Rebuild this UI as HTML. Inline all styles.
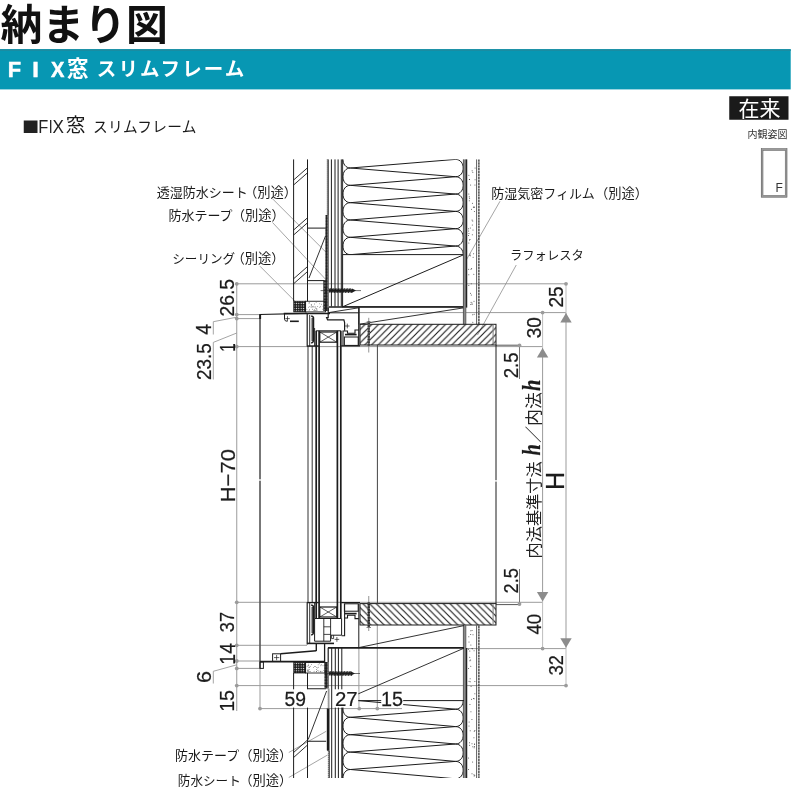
<!DOCTYPE html>
<html lang="ja"><head><meta charset="utf-8"><title>納まり図 FIX窓 スリムフレーム</title>
<style>html,body{margin:0;padding:0;background:#fff;}body{width:800px;height:800px;position:relative;overflow:hidden;font-family:"Liberation Sans",sans-serif;}.sr{position:absolute;left:0;top:0;width:1px;height:1px;margin:0;padding:0;overflow:hidden;clip:rect(0 0 0 0);clip-path:inset(50%);white-space:nowrap;font-size:1px;color:transparent;}</style>
</head><body>
<h1 class="sr">納まり図</h1>
<h2 class="sr">FIX窓 スリムフレーム</h2>
<p class="sr">在来 内観姿図 透湿防水シート（別途） 防水テープ（別途） シーリング（別途） 防湿気密フィルム（別途） ラフォレスタ 内法基準寸法h／内法h 防水シート（別途）</p>
<svg width="800" height="800" viewBox="0 0 800 800" style="position:absolute;left:0;top:0;will-change:transform;opacity:0.999">
<defs>
<pattern id="hA" patternUnits="userSpaceOnUse" width="6.7" height="6.7" x="3.4" y="324.4"><path d="M-1,7.7 L7.7,-1 M-1,1 L1,-1 M5.7,7.7 L7.7,5.7" stroke="#1c1c1c" stroke-width="1.15"/></pattern>
<pattern id="hB" patternUnits="userSpaceOnUse" width="6.7" height="6.7" x="1" y="603.6"><path d="M-1,-1 L7.7,7.7 M5.7,-1 L7.7,1 M-1,5.7 L1,7.7" stroke="#1c1c1c" stroke-width="1.15"/></pattern>
<pattern id="xh" patternUnits="userSpaceOnUse" width="2.4" height="2.4"><rect width="2.4" height="2.4" fill="#1c1c1c"/><circle cx="1.2" cy="1.2" r="0.62" fill="#fff"/></pattern>
<pattern id="bd" patternUnits="userSpaceOnUse" width="1.5" height="1.5"><rect width="1.5" height="1.5" fill="#1c1c1c"/><rect x="0" y="0" width="0.5" height="0.5" fill="#fff"/></pattern>
</defs>
<rect x="0" y="49.2" width="790.7" height="40.2" fill="#0797b3"/>
<rect x="0" y="49.2" width="790.7" height="1.8" fill="#1a8ca2"/>
<text x="0.5" y="39.8" font-family="'Liberation Sans','Noto Sans CJK JP',sans-serif" font-size="41.8" font-weight="bold" fill="#111" textLength="167.5" lengthAdjust="spacingAndGlyphs">納まり図</text>
<text transform="translate(7.64,76.8) scale(0.97,1)" font-family="Liberation Sans" font-size="22.53" font-weight="bold" fill="#fff" stroke="#fff" stroke-width="0.5">F</text>
<text transform="translate(32.32,76.8) scale(1.05,1)" font-family="Liberation Sans" font-size="22.53" font-weight="bold" fill="#fff" stroke="#fff" stroke-width="0.5">I</text>
<text transform="translate(51.02,76.8) scale(0.89,1)" font-family="Liberation Sans" font-size="22.53" font-weight="bold" fill="#fff" stroke="#fff" stroke-width="0.5">X</text>
<text x="67" y="76.3" font-family="'Liberation Sans','Noto Sans CJK JP',sans-serif" font-size="21.5" font-weight="bold" fill="#fff">窓</text>
<text x="96.8" y="76.3" font-family="'Liberation Sans','Noto Sans CJK JP',sans-serif" font-size="19.5" font-weight="bold" fill="#fff" textLength="147.5" lengthAdjust="spacing">スリムフレーム</text>
<rect x="23.75" y="120.5" width="13.75" height="12.5" fill="#222"/>
<text transform="translate(38.16,133) scale(0.92,1)" font-family="Liberation Sans" font-size="17.88" font-weight="normal" fill="#222">F</text>
<text transform="translate(48.71,133) scale(0.78,1)" font-family="Liberation Sans" font-size="17.88" font-weight="normal" fill="#222">I</text>
<text transform="translate(52.61,133) scale(0.96,1)" font-family="Liberation Sans" font-size="17.88" font-weight="normal" fill="#222">X</text>
<text x="65.8" y="132.3" font-family="'Liberation Sans','Noto Sans CJK JP',sans-serif" font-size="19.6" fill="#1a1a1a">窓</text>
<text x="93" y="131.8" font-family="'Liberation Sans','Noto Sans CJK JP',sans-serif" font-size="14.7" fill="#1a1a1a" textLength="103.5" lengthAdjust="spacing">スリムフレーム</text>
<rect x="729.25" y="96.25" width="59.25" height="23.5" fill="#1a1a1a"/>
<text x="738.6" y="116" font-family="'Liberation Sans','Noto Sans CJK JP',sans-serif" font-size="21" fill="#fff">在来</text>
<text x="747.6" y="137.8" font-family="'Liberation Sans','Noto Sans CJK JP',sans-serif" font-size="10" fill="#333">内観姿図</text>
<rect x="762" y="149.5" width="24.2" height="46.9" fill="none" stroke="#9a9a9a" stroke-width="1.8" />
<rect x="761.2" y="148.7" width="25.8" height="48.5" fill="none" stroke="#555" stroke-width="0.5" />
<rect x="763" y="150.5" width="22.2" height="44.9" fill="none" stroke="#555" stroke-width="0.5" />
<text transform="translate(775.41,192.2) scale(0.92,1)" font-family="Liberation Sans" font-size="13.08" font-weight="normal" fill="#333">F</text>
<line x1="236.75" y1="283.8" x2="236.75" y2="711" stroke="#9b9b9b" stroke-width="1" />
<line x1="236.75" y1="283.8" x2="566" y2="283.8" stroke="#9b9b9b" stroke-width="1" />
<line x1="236.75" y1="314.6" x2="260" y2="314.6" stroke="#9b9b9b" stroke-width="1" />
<line x1="236.75" y1="318.6" x2="260" y2="318.6" stroke="#9b9b9b" stroke-width="1" />
<line x1="236.75" y1="346.6" x2="542.6" y2="346.6" stroke="#9b9b9b" stroke-width="1" />
<line x1="236.75" y1="602.3" x2="542.6" y2="602.3" stroke="#9b9b9b" stroke-width="1" />
<line x1="236.75" y1="645.3" x2="307" y2="645.3" stroke="#9b9b9b" stroke-width="1" />
<line x1="236.75" y1="661" x2="260" y2="661" stroke="#9b9b9b" stroke-width="1" />
<line x1="236.75" y1="668.4" x2="260" y2="668.4" stroke="#9b9b9b" stroke-width="1" />
<line x1="236.75" y1="685.6" x2="566" y2="685.6" stroke="#9b9b9b" stroke-width="1" />
<line x1="359" y1="312.6" x2="566" y2="312.6" stroke="#9b9b9b" stroke-width="1" />
<line x1="464" y1="648.6" x2="566" y2="648.6" stroke="#9b9b9b" stroke-width="1" />
<line x1="260" y1="708.6" x2="402" y2="708.6" stroke="#9b9b9b" stroke-width="1" />
<line x1="260" y1="668.4" x2="260" y2="708.6" stroke="#9b9b9b" stroke-width="1" />
<line x1="358.9" y1="648" x2="358.9" y2="708.6" stroke="#9b9b9b" stroke-width="1" />
<line x1="377.3" y1="625" x2="377.3" y2="708.6" stroke="#9b9b9b" stroke-width="1" />
<line x1="566" y1="283.8" x2="566" y2="313" stroke="#bdbdbd" stroke-width="1" />
<line x1="566" y1="313" x2="566" y2="647.8" stroke="#9b9b9b" stroke-width="1" />
<line x1="566" y1="647.8" x2="566" y2="685.6" stroke="#bdbdbd" stroke-width="1" />
<line x1="542.6" y1="312.6" x2="542.6" y2="348" stroke="#bdbdbd" stroke-width="1" />
<line x1="542.6" y1="348" x2="542.6" y2="601.6" stroke="#9b9b9b" stroke-width="1" />
<line x1="542.6" y1="601.6" x2="542.6" y2="648.6" stroke="#bdbdbd" stroke-width="1" />
<line x1="519.5" y1="345" x2="519.5" y2="379" stroke="#777" stroke-width="1" />
<line x1="519.5" y1="569" x2="519.5" y2="604.5" stroke="#777" stroke-width="1" />
<line x1="496" y1="345.2" x2="519.5" y2="345.2" stroke="#555" stroke-width="1" />
<line x1="496" y1="604.6" x2="519.5" y2="604.6" stroke="#555" stroke-width="1" />
<circle cx="236.75" cy="283.8" r="1.9" fill="#9b9b9b"/>
<circle cx="236.75" cy="314.6" r="1.9" fill="#9b9b9b"/>
<circle cx="236.75" cy="318.6" r="1.9" fill="#9b9b9b"/>
<circle cx="236.75" cy="346.6" r="1.9" fill="#9b9b9b"/>
<circle cx="236.75" cy="602.3" r="1.9" fill="#9b9b9b"/>
<circle cx="236.75" cy="645.3" r="1.9" fill="#9b9b9b"/>
<circle cx="236.75" cy="661" r="1.9" fill="#9b9b9b"/>
<circle cx="236.75" cy="668.4" r="1.9" fill="#9b9b9b"/>
<circle cx="236.75" cy="685.6" r="1.9" fill="#9b9b9b"/>
<circle cx="260" cy="708.6" r="1.9" fill="#9b9b9b"/>
<circle cx="359.2" cy="708.6" r="1.9" fill="#9b9b9b"/>
<circle cx="377.3" cy="708.6" r="1.9" fill="#9b9b9b"/>
<circle cx="566" cy="283.8" r="1.9" fill="#9b9b9b"/>
<circle cx="542.6" cy="312.6" r="1.9" fill="#9b9b9b"/>
<circle cx="519.5" cy="345.4" r="1.9" fill="#9b9b9b"/>
<circle cx="519.5" cy="604" r="1.9" fill="#9b9b9b"/>
<circle cx="542.6" cy="648.6" r="1.9" fill="#9b9b9b"/>
<circle cx="566" cy="685.6" r="1.9" fill="#9b9b9b"/>
<polygon points="566,313 560.3,322.6 571.7,322.6" fill="#8c8c8c"/>
<polygon points="542.6,348 536.9,357.6 548.3,357.6" fill="#8c8c8c"/>
<polygon points="542.6,601.6 536.9,592 548.3,592" fill="#8c8c8c"/>
<polygon points="566,647.8 560.3,638.2 571.7,638.2" fill="#8c8c8c"/>
<polyline points="213.3,334.5 213.3,321.7 236.75,317.2" fill="none" stroke="#9b9b9b" stroke-width="0.9" />
<polyline points="213.3,379.5 213.3,342.4 236.75,333" fill="none" stroke="#9b9b9b" stroke-width="0.9" />
<polyline points="213.3,683.5 213.3,671.3 236.75,664.8" fill="none" stroke="#9b9b9b" stroke-width="0.9" />
<line x1="272.5" y1="198.75" x2="326.25" y2="252.5" stroke="#8e8e8e" stroke-width="0.8" />
<line x1="272.5" y1="222.5" x2="326.25" y2="280" stroke="#8e8e8e" stroke-width="0.8" />
<line x1="260" y1="266.25" x2="295" y2="301.25" stroke="#8e8e8e" stroke-width="0.8" />
<line x1="500" y1="201.25" x2="466.25" y2="260" stroke="#8e8e8e" stroke-width="0.8" />
<line x1="516.25" y1="265" x2="477.5" y2="335" stroke="#8e8e8e" stroke-width="0.8" />
<line x1="288.75" y1="752.5" x2="326.25" y2="731.25" stroke="#8e8e8e" stroke-width="0.8" />
<line x1="288.75" y1="777.5" x2="327.5" y2="755" stroke="#8e8e8e" stroke-width="0.8" />
<line x1="293.6" y1="159.4" x2="293.6" y2="301.25" stroke="#1c1c1c" stroke-width="1" />
<line x1="293.6" y1="673" x2="293.6" y2="778" stroke="#1c1c1c" stroke-width="1" />
<line x1="307.5" y1="159.4" x2="307.5" y2="301.25" stroke="#1c1c1c" stroke-width="1" />
<line x1="307.5" y1="673" x2="307.5" y2="778" stroke="#1c1c1c" stroke-width="1" />
<line x1="293.6" y1="180" x2="307.5" y2="167.8" stroke="#1c1c1c" stroke-width="0.9" />
<line x1="293.6" y1="185" x2="307.5" y2="172.8" stroke="#1c1c1c" stroke-width="0.9" />
<line x1="293.6" y1="230" x2="307.5" y2="217.8" stroke="#1c1c1c" stroke-width="0.9" />
<line x1="293.6" y1="235" x2="307.5" y2="222.8" stroke="#1c1c1c" stroke-width="0.9" />
<line x1="293.6" y1="278.75" x2="307.5" y2="266.55" stroke="#1c1c1c" stroke-width="0.9" />
<line x1="293.6" y1="283.75" x2="307.5" y2="271.55" stroke="#1c1c1c" stroke-width="0.9" />
<line x1="293.6" y1="752.5" x2="307.5" y2="740" stroke="#1c1c1c" stroke-width="0.9" />
<line x1="293.6" y1="757.5" x2="307.5" y2="745" stroke="#1c1c1c" stroke-width="0.9" />
<line x1="307.5" y1="228.1" x2="326.5" y2="228.1" stroke="#1c1c1c" stroke-width="1" />
<line x1="307.5" y1="280.6" x2="326.5" y2="280.6" stroke="#1c1c1c" stroke-width="1" />
<line x1="309" y1="278" x2="325.5" y2="236" stroke="#1c1c1c" stroke-width="0.9" />
<line x1="326.2" y1="228" x2="326.2" y2="301.25" stroke="#1c1c1c" stroke-width="0.8" />
<line x1="307.5" y1="688.75" x2="326.2" y2="688.75" stroke="#1c1c1c" stroke-width="1" />
<line x1="307.5" y1="741.25" x2="326.2" y2="741.25" stroke="#1c1c1c" stroke-width="1" />
<line x1="326.6" y1="691" x2="308.2" y2="739.5" stroke="#1c1c1c" stroke-width="0.9" />
<rect x="327.6" y="159.4" width="1.1" height="55.6" fill="#1c1c1c"/>
<line x1="327.25" y1="159.4" x2="327.25" y2="215" stroke="#1c1c1c" stroke-width="0.7" stroke-dasharray="1.1 0.9"/>
<rect x="325.5" y="215" width="2.1" height="65" fill="url(#bd)"/>
<line x1="328.1" y1="215" x2="328.1" y2="280" stroke="#1c1c1c" stroke-width="1.0" />
<rect x="323.3" y="280" width="4.3" height="31" fill="url(#bd)"/>
<line x1="328.1" y1="280" x2="328.1" y2="311" stroke="#1c1c1c" stroke-width="1.0" />
<rect x="324.4" y="662" width="3.2" height="26.5" fill="url(#bd)"/>
<line x1="328.1" y1="662" x2="328.1" y2="688.5" stroke="#1c1c1c" stroke-width="1.0" />
<rect x="328.3" y="688.5" width="1.1" height="20" fill="#777"/>
<line x1="327.95" y1="688.5" x2="327.95" y2="708.5" stroke="#777" stroke-width="0.7" stroke-dasharray="1.1 0.9"/>
<rect x="327" y="708.5" width="2.5" height="42.2" fill="#1c1c1c"/>
<line x1="326.9" y1="708.5" x2="326.9" y2="750.7" stroke="#1c1c1c" stroke-width="0.6" stroke-dasharray="1 1"/>
<rect x="328.7" y="750.7" width="1" height="27.3" fill="#1c1c1c"/>
<line x1="328.35" y1="750.7" x2="328.35" y2="778" stroke="#1c1c1c" stroke-width="0.7" stroke-dasharray="1.1 0.9"/>
<line x1="331.4" y1="159.4" x2="331.4" y2="306.5" stroke="#1c1c1c" stroke-width="1.0" />
<line x1="335" y1="159.4" x2="335" y2="306.5" stroke="#1c1c1c" stroke-width="1.0" />
<line x1="338.1" y1="159.4" x2="338.1" y2="306.5" stroke="#1c1c1c" stroke-width="1.0" />
<line x1="341.3" y1="159.4" x2="341.3" y2="306.5" stroke="#1c1c1c" stroke-width="1.0" />
<line x1="331.7" y1="648" x2="331.7" y2="778" stroke="#1c1c1c" stroke-width="1.0" />
<line x1="335.3" y1="648" x2="335.3" y2="778" stroke="#1c1c1c" stroke-width="1.0" />
<line x1="338.4" y1="648" x2="338.4" y2="778" stroke="#1c1c1c" stroke-width="1.0" />
<line x1="341.8" y1="648" x2="341.8" y2="778" stroke="#1c1c1c" stroke-width="1.0" />
<clipPath id="ci1"><rect x="340" y="159.4" width="130" height="95.2"/></clipPath>
<path d="M455.5,124.74 L350.5,133.34 L455.5,142.07 M350.5,133.34 C340.4,133.34 340.4,150.67 350.5,150.67 M455.5,124.74 C465.8,124.74 465.8,142.07 455.5,142.07 M455.5,142.07 L350.5,150.67 L455.5,159.4 M350.5,150.67 C340.4,150.67 340.4,168 350.5,168 M455.5,142.07 C465.8,142.07 465.8,159.4 455.5,159.4 M455.5,159.4 L350.5,168 L455.5,176.73 M350.5,168 C340.4,168 340.4,185.33 350.5,185.33 M455.5,159.4 C465.8,159.4 465.8,176.73 455.5,176.73 M455.5,176.73 L350.5,185.33 L455.5,194.06 M350.5,185.33 C340.4,185.33 340.4,202.66 350.5,202.66 M455.5,176.73 C465.8,176.73 465.8,194.06 455.5,194.06 M455.5,194.06 L350.5,202.66 L455.5,211.39 M350.5,202.66 C340.4,202.66 340.4,219.99 350.5,219.99 M455.5,194.06 C465.8,194.06 465.8,211.39 455.5,211.39 M455.5,211.39 L350.5,219.99 L455.5,228.72 M350.5,219.99 C340.4,219.99 340.4,237.32 350.5,237.32 M455.5,211.39 C465.8,211.39 465.8,228.72 455.5,228.72 M455.5,228.72 L350.5,237.32 L455.5,246.05 M350.5,237.32 C340.4,237.32 340.4,254.65 350.5,254.65 M455.5,228.72 C465.8,228.72 465.8,246.05 455.5,246.05 M455.5,246.05 L350.5,254.65 L455.5,263.38 M350.5,254.65 C340.4,254.65 340.4,271.98 350.5,271.98 M455.5,246.05 C465.8,246.05 465.8,263.38 455.5,263.38 M455.5,263.38 L350.5,271.98 L455.5,280.71 M350.5,271.98 C340.4,271.98 340.4,289.31 350.5,289.31 M455.5,263.38 C465.8,263.38 465.8,280.71 455.5,280.71 M455.5,280.71 L350.5,289.31 L455.5,298.04 M350.5,289.31 C340.4,289.31 340.4,306.64 350.5,306.64 M455.5,280.71 C465.8,280.71 465.8,298.04 455.5,298.04 " fill="none" stroke="#1c1c1c" stroke-width="1" clip-path="url(#ci1)"/>
<clipPath id="ci2"><rect x="340" y="700.6" width="130" height="77.4"/></clipPath>
<path d="M455.5,674.4 L350.5,682.5 L455.5,691.8 M350.5,682.5 C340.4,682.5 340.4,699.9 350.5,699.9 M455.5,674.4 C465.8,674.4 465.8,691.8 455.5,691.8 M455.5,691.8 L350.5,699.9 L455.5,709.2 M350.5,699.9 C340.4,699.9 340.4,717.3 350.5,717.3 M455.5,691.8 C465.8,691.8 465.8,709.2 455.5,709.2 M455.5,709.2 L350.5,717.3 L455.5,726.6 M350.5,717.3 C340.4,717.3 340.4,734.7 350.5,734.7 M455.5,709.2 C465.8,709.2 465.8,726.6 455.5,726.6 M455.5,726.6 L350.5,734.7 L455.5,744 M350.5,734.7 C340.4,734.7 340.4,752.1 350.5,752.1 M455.5,726.6 C465.8,726.6 465.8,744 455.5,744 M455.5,744 L350.5,752.1 L455.5,761.4 M350.5,752.1 C340.4,752.1 340.4,769.5 350.5,769.5 M455.5,744 C465.8,744 465.8,761.4 455.5,761.4 M455.5,761.4 L350.5,769.5 L455.5,778.8 M350.5,769.5 C340.4,769.5 340.4,786.9 350.5,786.9 M455.5,761.4 C465.8,761.4 465.8,778.8 455.5,778.8 M455.5,778.8 L350.5,786.9 L455.5,796.2 M350.5,786.9 C340.4,786.9 340.4,804.3 350.5,804.3 M455.5,778.8 C465.8,778.8 465.8,796.2 455.5,796.2 M455.5,796.2 L350.5,804.3 L455.5,813.6 M350.5,804.3 C340.4,804.3 340.4,821.7 350.5,821.7 M455.5,796.2 C465.8,796.2 465.8,813.6 455.5,813.6 M455.5,813.6 L350.5,821.7 L455.5,831 M350.5,821.7 C340.4,821.7 340.4,839.1 350.5,839.1 M455.5,813.6 C465.8,813.6 465.8,831 455.5,831 M455.5,831 L350.5,839.1 L455.5,848.4 M350.5,839.1 C340.4,839.1 340.4,856.5 350.5,856.5 M455.5,831 C465.8,831 465.8,848.4 455.5,848.4 " fill="none" stroke="#1c1c1c" stroke-width="1" clip-path="url(#ci2)"/>
<line x1="342.6" y1="159.4" x2="342.6" y2="254.6" stroke="#1c1c1c" stroke-width="0.9" />
<line x1="342.6" y1="700.6" x2="342.6" y2="778" stroke="#1c1c1c" stroke-width="0.9" />
<rect x="342.6" y="254.6" width="121.4" height="52.2" fill="none" stroke="#1c1c1c" stroke-width="1" />
<line x1="342.6" y1="306.8" x2="464" y2="254.6" stroke="#1c1c1c" stroke-width="1" />
<line x1="329" y1="307" x2="464" y2="307" stroke="#1c1c1c" stroke-width="1.7" />
<line x1="328.75" y1="312.6" x2="359.3" y2="307.7" stroke="#1c1c1c" stroke-width="0.9" />
<line x1="359" y1="307" x2="359" y2="324.3" stroke="#1c1c1c" stroke-width="0.9" />
<line x1="360" y1="324.1" x2="464" y2="307.8" stroke="#1c1c1c" stroke-width="0.9" />
<rect x="463.3" y="159.4" width="2.7" height="164.9" fill="#8a8a8a"/>
<line x1="463.4" y1="159.4" x2="463.4" y2="324.3" stroke="#444" stroke-width="0.8" />
<line x1="465.9" y1="159.4" x2="465.9" y2="324.3" stroke="#555" stroke-width="0.7" />
<line x1="466.6" y1="159.4" x2="466.6" y2="307.6" stroke="#222" stroke-width="1.3" />
<line x1="476.6" y1="159.4" x2="476.6" y2="324.3" stroke="#333" stroke-width="0.8" />
<line x1="478.9" y1="159.4" x2="478.9" y2="324.3" stroke="#222" stroke-width="1.2" stroke-dasharray="2.4 0.5"/>
<circle cx="470.6" cy="184.97" r="0.5" fill="#444"/>
<circle cx="472.83" cy="172.2" r="0.5" fill="#444"/>
<circle cx="472.04" cy="219.97" r="0.5" fill="#444"/>
<circle cx="468.79" cy="243.06" r="0.5" fill="#444"/>
<circle cx="468.65" cy="231.04" r="0.5" fill="#444"/>
<circle cx="468.88" cy="175.18" r="0.5" fill="#444"/>
<circle cx="471.29" cy="295.09" r="0.5" fill="#444"/>
<circle cx="469.24" cy="196.77" r="0.5" fill="#444"/>
<circle cx="472.67" cy="314.78" r="0.5" fill="#444"/>
<circle cx="472.32" cy="225.02" r="0.5" fill="#444"/>
<circle cx="475.04" cy="167.99" r="0.5" fill="#444"/>
<circle cx="474.24" cy="207.58" r="0.5" fill="#444"/>
<circle cx="469.38" cy="179.59" r="0.5" fill="#444"/>
<circle cx="470.5" cy="293.35" r="0.5" fill="#444"/>
<circle cx="469.63" cy="255.14" r="0.5" fill="#444"/>
<circle cx="472.74" cy="221.06" r="0.5" fill="#444"/>
<circle cx="472.12" cy="170.63" r="0.5" fill="#444"/>
<circle cx="468.81" cy="193.95" r="0.5" fill="#444"/>
<circle cx="473.03" cy="230.05" r="0.5" fill="#444"/>
<circle cx="470.54" cy="255.79" r="0.5" fill="#444"/>
<circle cx="471.48" cy="209.23" r="0.5" fill="#444"/>
<circle cx="473.8" cy="274.27" r="0.5" fill="#444"/>
<circle cx="470.06" cy="253.97" r="0.5" fill="#444"/>
<circle cx="471.97" cy="302.96" r="0.5" fill="#444"/>
<circle cx="473.36" cy="207.31" r="0.5" fill="#444"/>
<circle cx="475.07" cy="179.63" r="0.5" fill="#444"/>
<circle cx="471.24" cy="283.74" r="0.5" fill="#444"/>
<circle cx="469.43" cy="240.05" r="0.5" fill="#444"/>
<circle cx="468.67" cy="269.25" r="0.5" fill="#444"/>
<circle cx="473.6" cy="253.75" r="0.5" fill="#444"/>
<circle cx="474.35" cy="211.51" r="0.5" fill="#444"/>
<circle cx="473.13" cy="257.22" r="0.5" fill="#444"/>
<circle cx="472.34" cy="234.72" r="0.5" fill="#444"/>
<circle cx="474.11" cy="314.29" r="0.5" fill="#444"/>
<circle cx="471.62" cy="268.59" r="0.5" fill="#444"/>
<circle cx="468.81" cy="274.67" r="0.5" fill="#444"/>
<circle cx="472.8" cy="322.18" r="0.5" fill="#444"/>
<circle cx="473.99" cy="206.76" r="0.5" fill="#444"/>
<circle cx="471.02" cy="269.32" r="0.5" fill="#444"/>
<circle cx="468.55" cy="235.61" r="0.5" fill="#444"/>
<circle cx="469.54" cy="179.47" r="0.5" fill="#444"/>
<circle cx="468.8" cy="285.55" r="0.5" fill="#444"/>
<circle cx="469.28" cy="200.74" r="0.5" fill="#444"/>
<circle cx="471.06" cy="302.35" r="0.5" fill="#444"/>
<circle cx="468.95" cy="233.57" r="0.5" fill="#444"/>
<circle cx="472.14" cy="304.3" r="0.5" fill="#444"/>
<circle cx="473.97" cy="301.14" r="0.5" fill="#444"/>
<circle cx="470.29" cy="228.05" r="0.5" fill="#444"/>
<circle cx="470.84" cy="304.44" r="0.5" fill="#444"/>
<circle cx="474.91" cy="184.99" r="0.5" fill="#444"/>
<circle cx="469.6" cy="198.19" r="0.5" fill="#444"/>
<circle cx="469.99" cy="239.4" r="0.5" fill="#444"/>
<circle cx="472.41" cy="203.2" r="0.5" fill="#444"/>
<circle cx="468.43" cy="228.65" r="0.5" fill="#444"/>
<rect x="463.3" y="625.5" width="2.7" height="152.5" fill="#8a8a8a"/>
<line x1="463.4" y1="625.5" x2="463.4" y2="778" stroke="#444" stroke-width="0.8" />
<line x1="465.9" y1="625.5" x2="465.9" y2="778" stroke="#555" stroke-width="0.7" />
<line x1="466.6" y1="648" x2="466.6" y2="778" stroke="#222" stroke-width="1.3" />
<line x1="476.6" y1="625.5" x2="476.6" y2="778" stroke="#333" stroke-width="0.8" />
<line x1="478.9" y1="625.5" x2="478.9" y2="778" stroke="#222" stroke-width="1.2" stroke-dasharray="2.4 0.5"/>
<circle cx="470.91" cy="711.73" r="0.5" fill="#444"/>
<circle cx="474.88" cy="730.42" r="0.5" fill="#444"/>
<circle cx="471.91" cy="719.45" r="0.5" fill="#444"/>
<circle cx="473" cy="634.63" r="0.5" fill="#444"/>
<circle cx="474.52" cy="743.89" r="0.5" fill="#444"/>
<circle cx="474.35" cy="746.58" r="0.5" fill="#444"/>
<circle cx="471.07" cy="686.55" r="0.5" fill="#444"/>
<circle cx="469.1" cy="721.96" r="0.5" fill="#444"/>
<circle cx="468.82" cy="636.64" r="0.5" fill="#444"/>
<circle cx="469.82" cy="650.93" r="0.5" fill="#444"/>
<circle cx="470.71" cy="634.41" r="0.5" fill="#444"/>
<circle cx="468.4" cy="649.27" r="0.5" fill="#444"/>
<circle cx="469.09" cy="681.22" r="0.5" fill="#444"/>
<circle cx="468.57" cy="758.09" r="0.5" fill="#444"/>
<circle cx="472.58" cy="648.86" r="0.5" fill="#444"/>
<circle cx="470.12" cy="678.78" r="0.5" fill="#444"/>
<circle cx="470.88" cy="644.99" r="0.5" fill="#444"/>
<circle cx="474.17" cy="775.96" r="0.5" fill="#444"/>
<circle cx="471.57" cy="699.32" r="0.5" fill="#444"/>
<circle cx="468.98" cy="641.88" r="0.5" fill="#444"/>
<circle cx="470.73" cy="666.35" r="0.5" fill="#444"/>
<circle cx="474.04" cy="650.8" r="0.5" fill="#444"/>
<circle cx="468.56" cy="769.62" r="0.5" fill="#444"/>
<circle cx="471.99" cy="648.56" r="0.5" fill="#444"/>
<circle cx="472.09" cy="630.57" r="0.5" fill="#444"/>
<circle cx="471.99" cy="773.76" r="0.5" fill="#444"/>
<circle cx="474.27" cy="731.28" r="0.5" fill="#444"/>
<circle cx="470.18" cy="681.69" r="0.5" fill="#444"/>
<circle cx="469.54" cy="742.68" r="0.5" fill="#444"/>
<circle cx="472.02" cy="743.75" r="0.5" fill="#444"/>
<circle cx="470.64" cy="660.07" r="0.5" fill="#444"/>
<circle cx="473.92" cy="774.73" r="0.5" fill="#444"/>
<circle cx="474.2" cy="747.81" r="0.5" fill="#444"/>
<circle cx="473.96" cy="737.85" r="0.5" fill="#444"/>
<circle cx="469.94" cy="704.4" r="0.5" fill="#444"/>
<circle cx="470.82" cy="630.86" r="0.5" fill="#444"/>
<circle cx="468.59" cy="668.55" r="0.5" fill="#444"/>
<circle cx="470.16" cy="730.72" r="0.5" fill="#444"/>
<circle cx="474.9" cy="693.81" r="0.5" fill="#444"/>
<circle cx="474.77" cy="775.2" r="0.5" fill="#444"/>
<circle cx="474.89" cy="681.38" r="0.5" fill="#444"/>
<circle cx="469.9" cy="660.64" r="0.5" fill="#444"/>
<circle cx="469.74" cy="657.26" r="0.5" fill="#444"/>
<circle cx="472.64" cy="762" r="0.5" fill="#444"/>
<circle cx="474.11" cy="698.66" r="0.5" fill="#444"/>
<circle cx="472.84" cy="746.85" r="0.5" fill="#444"/>
<circle cx="468.98" cy="725.92" r="0.5" fill="#444"/>
<circle cx="474.59" cy="744.24" r="0.5" fill="#444"/>
<circle cx="473.5" cy="698.44" r="0.5" fill="#444"/>
<circle cx="469.61" cy="745.26" r="0.5" fill="#444"/>
<rect x="360" y="324.3" width="136" height="20.7" fill="url(#hA)" stroke="#1c1c1c" stroke-width="1" />
<rect x="360" y="603.6" width="136" height="21.4" fill="url(#hB)" stroke="#1c1c1c" stroke-width="1" />
<line x1="496" y1="345" x2="496" y2="603.6" stroke="#1c1c1c" stroke-width="1" />
<line x1="493.1" y1="324.4" x2="493.1" y2="344" stroke="#888" stroke-width="1.1" />
<line x1="493.1" y1="604.2" x2="493.1" y2="624.4" stroke="#888" stroke-width="1.1" />
<rect x="495" y="480.2" width="2" height="1.4" fill="#fff" stroke="none" stroke-width="0" />
<line x1="377.4" y1="345" x2="377.4" y2="603.6" stroke="#444" stroke-width="1" />
<line x1="358.8" y1="603.75" x2="358.8" y2="647.7" stroke="#1c1c1c" stroke-width="1" />
<line x1="328" y1="647.8" x2="464" y2="647.8" stroke="#1c1c1c" stroke-width="1.7" />
<line x1="358.8" y1="647.6" x2="464" y2="625.6" stroke="#1c1c1c" stroke-width="0.9" />
<line x1="342.6" y1="700.6" x2="464" y2="648.2" stroke="#1c1c1c" stroke-width="0.9" />
<line x1="342.6" y1="700.6" x2="464" y2="700.6" stroke="#1c1c1c" stroke-width="1" />
<line x1="316.2" y1="330.8" x2="316.2" y2="618" stroke="#1c1c1c" stroke-width="1.7" />
<line x1="319.1" y1="330.8" x2="319.1" y2="618" stroke="#1c1c1c" stroke-width="1.7" />
<line x1="337.4" y1="330.8" x2="337.4" y2="618" stroke="#1c1c1c" stroke-width="1.7" />
<line x1="340.8" y1="330.8" x2="340.8" y2="618" stroke="#1c1c1c" stroke-width="1.7" />
<line x1="316.2" y1="330.8" x2="340.8" y2="330.8" stroke="#1c1c1c" stroke-width="1" />
<rect x="319.8" y="332" width="17" height="10.2" fill="none" stroke="#1c1c1c" stroke-width="1.2" />
<line x1="319.8" y1="332" x2="336.8" y2="342.2" stroke="#1c1c1c" stroke-width="0.7" />
<line x1="319.8" y1="342.2" x2="336.8" y2="332" stroke="#1c1c1c" stroke-width="0.7" />
<rect x="319.8" y="607" width="17" height="10" fill="none" stroke="#1c1c1c" stroke-width="1.2" />
<line x1="319.8" y1="607" x2="336.8" y2="617" stroke="#1c1c1c" stroke-width="0.7" />
<line x1="319.8" y1="617" x2="336.8" y2="607" stroke="#1c1c1c" stroke-width="0.7" />
<line x1="308" y1="346" x2="308" y2="602.5" stroke="#1c1c1c" stroke-width="0.9" />
<line x1="312.2" y1="346" x2="312.2" y2="602.5" stroke="#1c1c1c" stroke-width="0.9" />
<line x1="260" y1="314.4" x2="260" y2="668.4" stroke="#555" stroke-width="1.6" />
<rect x="258.5" y="479.3" width="3" height="1.4" fill="#fff" stroke="none" stroke-width="0" />
<polyline points="260,318.9 260,314.5 307,313.3" fill="none" stroke="#1c1c1c" stroke-width="1.2" />
<line x1="283.75" y1="313.5" x2="330" y2="313.5" stroke="#1c1c1c" stroke-width="1.7" />
<line x1="260.3" y1="314.4" x2="260.3" y2="319" stroke="#1c1c1c" stroke-width="1.6" />
<path d="M284.5,314 V319.2 Q284.6,321.3 287.5,321.3" fill="none" stroke="#1c1c1c" stroke-width="1" />
<line x1="290" y1="321.3" x2="298.8" y2="321.3" stroke="#1c1c1c" stroke-width="1.6" />
<line x1="285.3" y1="318.6" x2="289.8" y2="318.6" stroke="#1c1c1c" stroke-width="0.7" />
<line x1="287.5" y1="316.2" x2="287.5" y2="321" stroke="#1c1c1c" stroke-width="0.7" />
<line x1="307.2" y1="313.5" x2="307.2" y2="346.4" stroke="#1c1c1c" stroke-width="1.2" />
<line x1="309.7" y1="315" x2="309.7" y2="346.4" stroke="#1c1c1c" stroke-width="0.9" />
<path d="M311.2,316 Q314,316.5 313.6,319 V340 Q313.6,342.5 311.2,343" fill="none" stroke="#1c1c1c" stroke-width="1.3" />
<line x1="312.2" y1="318" x2="312.2" y2="341" stroke="#1c1c1c" stroke-width="1.2" />
<line x1="307.2" y1="346" x2="318.8" y2="346" stroke="#1c1c1c" stroke-width="1.4" />
<line x1="314.6" y1="328" x2="314.6" y2="346" stroke="#1c1c1c" stroke-width="0.9" />
<rect x="293.75" y="301.25" width="11.85" height="10.65" fill="url(#xh)" stroke="#1c1c1c" stroke-width="0.8" />
<rect x="305.6" y="301.25" width="20" height="10.65" fill="none" stroke="#1c1c1c" stroke-width="0.9" />
<circle cx="312.72" cy="309.21" r="0.42" fill="#333"/>
<circle cx="324.1" cy="305.76" r="0.42" fill="#333"/>
<circle cx="313.94" cy="310.45" r="0.42" fill="#333"/>
<circle cx="319.7" cy="303.85" r="0.42" fill="#333"/>
<circle cx="309.06" cy="303.68" r="0.42" fill="#333"/>
<circle cx="322.91" cy="309.26" r="0.42" fill="#333"/>
<circle cx="309.4" cy="309.43" r="0.42" fill="#333"/>
<circle cx="324.25" cy="307.99" r="0.42" fill="#333"/>
<circle cx="313.04" cy="307.06" r="0.42" fill="#333"/>
<circle cx="309.13" cy="302.52" r="0.42" fill="#333"/>
<circle cx="324.08" cy="307.92" r="0.42" fill="#333"/>
<circle cx="316.17" cy="310.34" r="0.42" fill="#333"/>
<circle cx="314.52" cy="309.81" r="0.42" fill="#333"/>
<circle cx="321.51" cy="304.19" r="0.42" fill="#333"/>
<circle cx="311.28" cy="304.89" r="0.42" fill="#333"/>
<circle cx="311.08" cy="307.38" r="0.42" fill="#333"/>
<circle cx="311.42" cy="305.96" r="0.42" fill="#333"/>
<circle cx="309.13" cy="310.14" r="0.42" fill="#333"/>
<circle cx="313.1" cy="306.29" r="0.42" fill="#333"/>
<circle cx="317.18" cy="310.09" r="0.42" fill="#333"/>
<circle cx="314.29" cy="310.2" r="0.42" fill="#333"/>
<circle cx="315.73" cy="306.92" r="0.42" fill="#333"/>
<circle cx="316.12" cy="302.56" r="0.42" fill="#333"/>
<circle cx="314.63" cy="303.96" r="0.42" fill="#333"/>
<circle cx="306.87" cy="309.19" r="0.42" fill="#333"/>
<circle cx="309.87" cy="306.42" r="0.42" fill="#333"/>
<circle cx="319.71" cy="307.13" r="0.42" fill="#333"/>
<circle cx="312.6" cy="306.81" r="0.42" fill="#333"/>
<circle cx="316.69" cy="309.07" r="0.42" fill="#333"/>
<circle cx="308.69" cy="307.16" r="0.42" fill="#333"/>
<circle cx="311.22" cy="304.75" r="0.42" fill="#333"/>
<circle cx="320.55" cy="306.72" r="0.42" fill="#333"/>
<circle cx="316.8" cy="308.86" r="0.42" fill="#333"/>
<circle cx="323.04" cy="306.17" r="0.42" fill="#333"/>
<circle cx="317.7" cy="306.7" r="0.42" fill="#333"/>
<circle cx="315.92" cy="308.29" r="0.42" fill="#333"/>
<circle cx="314.85" cy="306.93" r="0.42" fill="#333"/>
<circle cx="315.31" cy="310.4" r="0.42" fill="#333"/>
<polyline points="328.2,307.5 328.2,317.6 326.6,317.6 327.6,319.9 343.9,319.9 344.6,322.6 344.6,330.8" fill="none" stroke="#1c1c1c" stroke-width="1.2" />
<line x1="328.2" y1="312.8" x2="358.8" y2="312.8" stroke="#1c1c1c" stroke-width="1.0" />
<line x1="358.8" y1="308" x2="358.8" y2="345.6" stroke="#1c1c1c" stroke-width="1.3" />
<polyline points="343,345.6 343,331 347.5,331 347.5,333.2 355,333.2 355,330 358.8,330" fill="none" stroke="#1c1c1c" stroke-width="1.1" />
<line x1="345" y1="334.6" x2="356.6" y2="334.6" stroke="#1c1c1c" stroke-width="1.6" />
<rect x="344.4" y="337" width="13.8" height="8.4" fill="none" stroke="#1c1c1c" stroke-width="1" />
<line x1="345.1" y1="326" x2="349.5" y2="326" stroke="#1c1c1c" stroke-width="0.7" />
<line x1="347.3" y1="323.6" x2="347.3" y2="328.4" stroke="#1c1c1c" stroke-width="0.7" />
<line x1="341.2" y1="345.8" x2="360" y2="345.8" stroke="#1c1c1c" stroke-width="1.3" />
<line x1="368.75" y1="317.8" x2="368.75" y2="352.5" stroke="#777" stroke-width="0.8" />
<line x1="368.75" y1="321.5" x2="368.75" y2="346" stroke="#666" stroke-width="2.0" />
<line x1="368.75" y1="321.5" x2="368.75" y2="346" stroke="#333" stroke-width="2.4" stroke-dasharray="0.8 0.8"/>
<line x1="366.5" y1="322" x2="371" y2="322" stroke="#666" stroke-width="0.8" />
<line x1="320.6" y1="290.6" x2="361" y2="290.6" stroke="#333" stroke-width="0.7" />
<path d="M329,288.3 L330,292.9 M330.55,288.3 L331.55,292.9 M332.1,288.3 L333.1,292.9 M333.65,288.3 L334.65,292.9 M335.2,288.3 L336.2,292.9 M336.75,288.3 L337.75,292.9 M338.3,288.3 L339.3,292.9 M339.85,288.3 L340.85,292.9 M341.4,288.3 L342.4,292.9 M342.95,288.3 L343.95,292.9 M344.5,288.3 L345.5,292.9 M346.05,288.3 L347.05,292.9 M347.6,288.3 L348.6,292.9 M349.15,288.3 L350.15,292.9 M350.7,288.3 L351.7,292.9 " fill="none" stroke="#1c1c1c" stroke-width="1.0" />
<line x1="329" y1="290.6" x2="352" y2="290.6" stroke="#1c1c1c" stroke-width="2.4" />
<polygon points="352,288.5 356,290.6 352,292.7" fill="#1c1c1c"/>
<line x1="326" y1="287.6" x2="326" y2="293.6" stroke="#1c1c1c" stroke-width="1.2" />
<line x1="325" y1="673.5" x2="360" y2="673.5" stroke="#333" stroke-width="0.7" />
<path d="M329,671.2 L330,675.8 M330.55,671.2 L331.55,675.8 M332.1,671.2 L333.1,675.8 M333.65,671.2 L334.65,675.8 M335.2,671.2 L336.2,675.8 M336.75,671.2 L337.75,675.8 M338.3,671.2 L339.3,675.8 M339.85,671.2 L340.85,675.8 M341.4,671.2 L342.4,675.8 M342.95,671.2 L343.95,675.8 M344.5,671.2 L345.5,675.8 M346.05,671.2 L347.05,675.8 M347.6,671.2 L348.6,675.8 M349.15,671.2 L350.15,675.8 M350.7,671.2 L351.7,675.8 " fill="none" stroke="#1c1c1c" stroke-width="1.0" />
<line x1="329" y1="673.5" x2="351" y2="673.5" stroke="#1c1c1c" stroke-width="2.4" />
<polygon points="351,671.4 355,673.5 351,675.6" fill="#1c1c1c"/>
<line x1="326" y1="670.5" x2="326" y2="676.5" stroke="#1c1c1c" stroke-width="1.2" />
<line x1="307.2" y1="602.3" x2="307.2" y2="644.6" stroke="#1c1c1c" stroke-width="1.2" />
<line x1="309.7" y1="603" x2="309.7" y2="643" stroke="#1c1c1c" stroke-width="0.9" />
<path d="M311.2,605 Q314,605.5 313.6,608 V632 Q313.6,634.5 311.2,635" fill="none" stroke="#1c1c1c" stroke-width="1.3" />
<line x1="312.2" y1="607" x2="312.2" y2="633" stroke="#1c1c1c" stroke-width="1.2" />
<line x1="307.2" y1="602.6" x2="318.8" y2="602.6" stroke="#1c1c1c" stroke-width="1.3" />
<line x1="314.6" y1="603" x2="314.6" y2="618.5" stroke="#1c1c1c" stroke-width="0.9" />
<polyline points="314.6,618.5 341.6,618.5 341.6,635.2 330.6,635.2 330.6,641.2 314.6,641.2 314.6,618.5" fill="none" stroke="#1c1c1c" stroke-width="1" />
<line x1="323.8" y1="618.5" x2="323.8" y2="641.2" stroke="#1c1c1c" stroke-width="0.9" />
<line x1="330.6" y1="618.5" x2="330.6" y2="635.2" stroke="#1c1c1c" stroke-width="0.9" />
<line x1="323.8" y1="626.8" x2="330.6" y2="626.8" stroke="#1c1c1c" stroke-width="0.8" />
<line x1="323.8" y1="634.4" x2="330.6" y2="634.4" stroke="#1c1c1c" stroke-width="0.8" />
<polyline points="331.6,635.2 331.6,638.6 333.6,638.6 333.6,635.2" fill="none" stroke="#1c1c1c" stroke-width="0.8" />
<line x1="307.2" y1="643.4" x2="334" y2="643.4" stroke="#1c1c1c" stroke-width="1.6" />
<line x1="316.3" y1="643.4" x2="316.3" y2="651" stroke="#1c1c1c" stroke-width="1.4" />
<polyline points="316.3,650.8 280.6,653.8" fill="none" stroke="#1c1c1c" stroke-width="1.5" />
<rect x="272.6" y="653.8" width="8" height="7.6" fill="none" stroke="#1c1c1c" stroke-width="1" />
<line x1="274" y1="657.6" x2="279.3" y2="657.6" stroke="#1c1c1c" stroke-width="0.7" />
<line x1="276.6" y1="655" x2="276.6" y2="660.2" stroke="#1c1c1c" stroke-width="0.7" />
<line x1="260" y1="661.6" x2="325" y2="661.6" stroke="#1c1c1c" stroke-width="1.7" />
<rect x="260" y="662" width="3.4" height="6.4" fill="none" stroke="#1c1c1c" stroke-width="1" />
<line x1="324.6" y1="643.4" x2="324.6" y2="662" stroke="#1c1c1c" stroke-width="1.3" />
<rect x="293.75" y="662.5" width="11.85" height="10.5" fill="url(#xh)" stroke="#1c1c1c" stroke-width="0.8" />
<rect x="305.6" y="662.5" width="19.4" height="10.5" fill="none" stroke="#1c1c1c" stroke-width="0.9" />
<circle cx="318.83" cy="670.96" r="0.42" fill="#333"/>
<circle cx="323.01" cy="665.78" r="0.42" fill="#333"/>
<circle cx="316.42" cy="671.52" r="0.42" fill="#333"/>
<circle cx="321.25" cy="664.75" r="0.42" fill="#333"/>
<circle cx="308.89" cy="667.31" r="0.42" fill="#333"/>
<circle cx="308.05" cy="665.62" r="0.42" fill="#333"/>
<circle cx="308.06" cy="669.22" r="0.42" fill="#333"/>
<circle cx="320.28" cy="671.14" r="0.42" fill="#333"/>
<circle cx="309.46" cy="669.62" r="0.42" fill="#333"/>
<circle cx="318.16" cy="664.8" r="0.42" fill="#333"/>
<circle cx="321.98" cy="671.73" r="0.42" fill="#333"/>
<circle cx="310.58" cy="671.6" r="0.42" fill="#333"/>
<circle cx="313.65" cy="667.69" r="0.42" fill="#333"/>
<circle cx="323.83" cy="670.59" r="0.42" fill="#333"/>
<circle cx="309.58" cy="667.22" r="0.42" fill="#333"/>
<circle cx="315.67" cy="666.45" r="0.42" fill="#333"/>
<circle cx="310.17" cy="666.28" r="0.42" fill="#333"/>
<circle cx="319.22" cy="663.76" r="0.42" fill="#333"/>
<circle cx="316.33" cy="667.3" r="0.42" fill="#333"/>
<circle cx="307.11" cy="666.38" r="0.42" fill="#333"/>
<circle cx="317.53" cy="667.9" r="0.42" fill="#333"/>
<circle cx="307.91" cy="671.87" r="0.42" fill="#333"/>
<circle cx="320.36" cy="671.76" r="0.42" fill="#333"/>
<circle cx="308.6" cy="665.83" r="0.42" fill="#333"/>
<circle cx="307.48" cy="670.14" r="0.42" fill="#333"/>
<circle cx="311.45" cy="664.69" r="0.42" fill="#333"/>
<circle cx="314.06" cy="671.26" r="0.42" fill="#333"/>
<circle cx="320.89" cy="665.77" r="0.42" fill="#333"/>
<circle cx="309.37" cy="671.32" r="0.42" fill="#333"/>
<circle cx="316.61" cy="669.48" r="0.42" fill="#333"/>
<circle cx="308.34" cy="664.08" r="0.42" fill="#333"/>
<circle cx="318.64" cy="667.17" r="0.42" fill="#333"/>
<circle cx="308.05" cy="671.48" r="0.42" fill="#333"/>
<circle cx="317.71" cy="670.33" r="0.42" fill="#333"/>
<circle cx="308.24" cy="670.79" r="0.42" fill="#333"/>
<circle cx="307.95" cy="670.85" r="0.42" fill="#333"/>
<circle cx="314.6" cy="666.45" r="0.42" fill="#333"/>
<circle cx="316.31" cy="671.38" r="0.42" fill="#333"/>
<rect x="344.4" y="603.8" width="13.8" height="7.4" fill="none" stroke="#1c1c1c" stroke-width="1" />
<line x1="345" y1="613.6" x2="356.6" y2="613.6" stroke="#1c1c1c" stroke-width="1.6" />
<polyline points="344.6,618 347.5,618 347.5,615.2 355,615.2 355,618.6 358.8,618.6" fill="none" stroke="#1c1c1c" stroke-width="1.1" />
<polyline points="344.6,604 344.6,635.8 341.6,635.8" fill="none" stroke="#1c1c1c" stroke-width="1.1" />
<line x1="334.6" y1="639.4" x2="339.2" y2="639.4" stroke="#1c1c1c" stroke-width="0.7" />
<line x1="336.9" y1="637" x2="336.9" y2="641.8" stroke="#1c1c1c" stroke-width="0.7" />
<line x1="341.2" y1="602.6" x2="360" y2="602.6" stroke="#1c1c1c" stroke-width="1.3" />
<line x1="368.75" y1="596" x2="368.75" y2="631" stroke="#777" stroke-width="0.8" />
<line x1="368.75" y1="602.5" x2="368.75" y2="627" stroke="#555" stroke-width="2.0" />
<line x1="368.75" y1="602.5" x2="368.75" y2="627" stroke="#222" stroke-width="2.4" stroke-dasharray="0.8 0.8"/>
<line x1="366.5" y1="627.5" x2="371" y2="627.5" stroke="#666" stroke-width="0.8" />
<line x1="328.2" y1="647.8" x2="328.2" y2="662" stroke="#1c1c1c" stroke-width="1.2" />
<text x="156.8" y="197" font-family="'Liberation Sans','Noto Sans CJK JP',sans-serif" font-size="13" fill="#1a1a1a">透湿防水シート</text>
<text x="243.9" y="197" font-family="'Liberation Sans','Noto Sans CJK JP',sans-serif" font-size="13.3" fill="#1a1a1a">（別途）</text>
<text x="168.4" y="220.3" font-family="'Liberation Sans','Noto Sans CJK JP',sans-serif" font-size="13" fill="#1a1a1a">防水テープ</text>
<text x="231.7" y="220.3" font-family="'Liberation Sans','Noto Sans CJK JP',sans-serif" font-size="13.3" fill="#1a1a1a">（別途）</text>
<text x="172.2" y="262.9" font-family="'Liberation Sans','Noto Sans CJK JP',sans-serif" font-size="12.6" fill="#1a1a1a">シーリング</text>
<text x="231.4" y="262.9" font-family="'Liberation Sans','Noto Sans CJK JP',sans-serif" font-size="13.3" fill="#1a1a1a">（別途）</text>
<text x="491.3" y="198.1" font-family="'Liberation Sans','Noto Sans CJK JP',sans-serif" font-size="13" fill="#1a1a1a">防湿気密フィルム</text>
<text x="594.9" y="198.1" font-family="'Liberation Sans','Noto Sans CJK JP',sans-serif" font-size="13.3" fill="#1a1a1a">（別途）</text>
<text x="510" y="260.4" font-family="'Liberation Sans','Noto Sans CJK JP',sans-serif" font-size="12.3" fill="#1a1a1a">ラフォレスタ</text>
<text x="175" y="759.5" font-family="'Liberation Sans','Noto Sans CJK JP',sans-serif" font-size="13" fill="#1a1a1a">防水テープ</text>
<text x="239.2" y="759.5" font-family="'Liberation Sans','Noto Sans CJK JP',sans-serif" font-size="13.3" fill="#1a1a1a">（別途）</text>
<text x="177.8" y="785" font-family="'Liberation Sans','Noto Sans CJK JP',sans-serif" font-size="12.6" fill="#1a1a1a">防水シート</text>
<text x="239.2" y="785" font-family="'Liberation Sans','Noto Sans CJK JP',sans-serif" font-size="13.3" fill="#1a1a1a">（別途）</text>
<text transform="translate(524,557.7) rotate(-90)" x="-0.8" y="15.6" font-family="'Liberation Sans','Noto Sans CJK JP',sans-serif" font-size="16.2" fill="#222">内法基準寸法</text>
<text transform="translate(524,442.5) rotate(-90)" x="-0.3" y="15.5" font-family="'Liberation Sans','Noto Sans CJK JP',sans-serif" font-size="16.9" fill="#222">／内法</text>
<text transform="translate(522.5,455) rotate(-90) translate(-0.4,17.5) scale(0.81,1)" font-family="Liberation Serif" font-size="25.22" font-weight="bold" font-style="italic" fill="#1c1c1c" stroke="#1c1c1c" stroke-width="0.25">h</text>
<text transform="translate(522.5,390.6) rotate(-90) translate(-0.4,17.5) scale(0.81,1)" font-family="Liberation Serif" font-size="25.22" font-weight="bold" font-style="italic" fill="#1c1c1c" stroke="#1c1c1c" stroke-width="0.25">h</text>
<text transform="translate(219.8,315.5) rotate(-90) translate(-0.97,14.5) scale(0.93,1)" font-family="Liberation Sans" font-size="20.76" font-weight="normal" font-style="normal" fill="#1c1c1c" stroke="#1c1c1c" stroke-width="0.25">26.5</text>
<text transform="translate(196.5,334.2) rotate(-90) translate(-0.44,14.7) scale(0.9,1)" font-family="Liberation Sans" font-size="21.37" font-weight="normal" font-style="normal" fill="#1c1c1c" stroke="#1c1c1c" stroke-width="0.25">4</text>
<text transform="translate(196.5,379) rotate(-90) translate(-0.95,14.5) scale(0.91,1)" font-family="Liberation Sans" font-size="20.76" font-weight="normal" font-style="normal" fill="#1c1c1c" stroke="#1c1c1c" stroke-width="0.25">23.5</text>
<text transform="translate(219.8,350.5) rotate(-90) translate(-1.15,14.7) scale(0.71,1)" font-family="Liberation Sans" font-size="21.37" font-weight="normal" font-style="normal" fill="#1c1c1c" stroke="#1c1c1c" stroke-width="0.25">1</text>
<text transform="translate(220.6,500.5) rotate(-90) translate(-1.8,14.5) scale(1.06,1)" font-family="Liberation Sans" font-size="20.76" font-weight="normal" font-style="normal" fill="#1c1c1c" stroke="#1c1c1c" stroke-width="0.25">H−70</text>
<text transform="translate(219.8,631.5) rotate(-90) translate(-0.7,14.5) scale(0.88,1)" font-family="Liberation Sans" font-size="20.76" font-weight="normal" font-style="normal" fill="#1c1c1c" stroke="#1c1c1c" stroke-width="0.25">37</text>
<text transform="translate(219.8,663.2) rotate(-90) translate(-1.48,14.7) scale(0.91,1)" font-family="Liberation Sans" font-size="21.37" font-weight="normal" font-style="normal" fill="#1c1c1c" stroke="#1c1c1c" stroke-width="0.25">14</text>
<text transform="translate(196.5,682) rotate(-90) translate(-1.1,14.5) scale(1.04,1)" font-family="Liberation Sans" font-size="20.76" font-weight="normal" font-style="normal" fill="#1c1c1c" stroke="#1c1c1c" stroke-width="0.25">6</text>
<text transform="translate(219.8,710.3) rotate(-90) translate(-1.49,14.49) scale(0.93,1)" font-family="Liberation Sans" font-size="21.07" font-weight="normal" font-style="normal" fill="#1c1c1c" stroke="#1c1c1c" stroke-width="0.25">15</text>
<text transform="translate(548.8,306.6) rotate(-90) translate(-0.97,14.4) scale(0.93,1)" font-family="Liberation Sans" font-size="20.62" font-weight="normal" font-style="normal" fill="#1c1c1c" stroke="#1c1c1c" stroke-width="0.25">25</text>
<text transform="translate(526,337.5) rotate(-90) translate(-0.72,14.5) scale(0.91,1)" font-family="Liberation Sans" font-size="20.76" font-weight="normal" font-style="normal" fill="#1c1c1c" stroke="#1c1c1c" stroke-width="0.25">30</text>
<text transform="translate(503.25,377.3) rotate(-90) translate(-0.94,14.45) scale(0.9,1)" font-family="Liberation Sans" font-size="20.69" font-weight="normal" font-style="normal" fill="#1c1c1c" stroke="#1c1c1c" stroke-width="0.25">2.5</text>
<text transform="translate(503.25,592.5) rotate(-90) translate(-0.91,14.45) scale(0.88,1)" font-family="Liberation Sans" font-size="20.69" font-weight="normal" font-style="normal" fill="#1c1c1c" stroke="#1c1c1c" stroke-width="0.25">2.5</text>
<text transform="translate(526,634) rotate(-90) translate(-0.43,14.5) scale(0.89,1)" font-family="Liberation Sans" font-size="20.76" font-weight="normal" font-style="normal" fill="#1c1c1c" stroke="#1c1c1c" stroke-width="0.25">40</text>
<text transform="translate(548.8,674.6) rotate(-90) translate(-0.69,14.4) scale(0.88,1)" font-family="Liberation Sans" font-size="20.62" font-weight="normal" font-style="normal" fill="#1c1c1c" stroke="#1c1c1c" stroke-width="0.25">32</text>
<text transform="translate(546.5,488) rotate(-90) translate(-2.06,17.5) scale(0.99,1)" font-family="Liberation Sans" font-size="25.44" font-weight="normal" font-style="normal" fill="#1c1c1c" stroke="#1c1c1c" stroke-width="0.25">H</text>
<rect x="283" y="689.3" width="25.2" height="18.3" fill="#fff"/>
<text transform="translate(284.62,705.8) scale(0.95,1)" font-family="Liberation Sans" font-size="20.34" font-weight="normal" fill="#1c1c1c" stroke="#1c1c1c" stroke-width="0.25">59</text>
<rect x="333.6" y="689.3" width="24.6" height="18.3" fill="#fff"/>
<text transform="translate(334.98,706) scale(0.99,1)" font-family="Liberation Sans" font-size="20.62" font-weight="normal" fill="#1c1c1c" stroke="#1c1c1c" stroke-width="0.25">27</text>
<rect x="381.2" y="689.3" width="22" height="18.3" fill="#fff"/>
<text transform="translate(380.99,705.8) scale(0.96,1)" font-family="Liberation Sans" font-size="20.64" font-weight="normal" fill="#1c1c1c" stroke="#1c1c1c" stroke-width="0.25">15</text>
</svg>
</body></html>
